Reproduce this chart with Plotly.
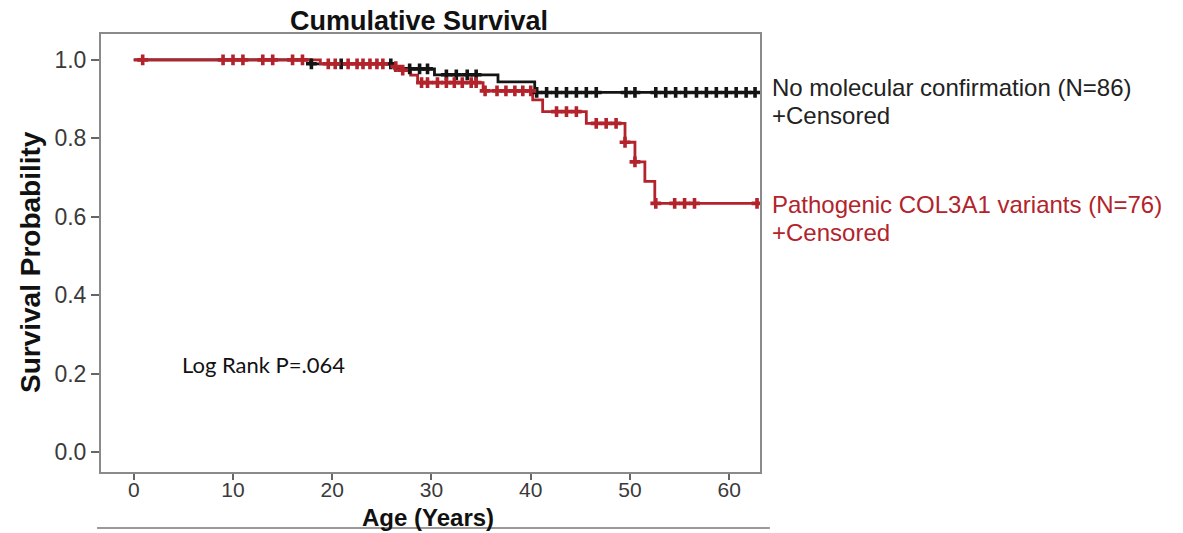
import plotly.graph_objects as go

# ---- data ----
# No molecular confirmation (N=86): step curve (time, survival)
black_t = [0, 17.8, 26.3, 30.3, 36.7, 40.4, 63.0]
black_s = [1.0, 0.990, 0.977, 0.962, 0.944, 0.917, 0.917]
black_cens_t = [17.9, 20.9, 25.9, 27.8, 28.8, 29.6, 31.5, 32.5, 33.6, 34.5,
                40.6, 41.6, 42.6, 43.6, 44.6, 45.6, 46.6, 49.6, 50.5, 52.6,
                53.6, 54.6, 55.6, 56.7, 57.7, 58.7, 59.7, 60.7, 61.7, 62.6]
black_cens_s = [0.990, 0.990, 0.990, 0.977, 0.977, 0.977, 0.962, 0.962, 0.962, 0.962,
                0.917, 0.917, 0.917, 0.917, 0.917, 0.917, 0.917, 0.917, 0.917, 0.917,
                0.917, 0.917, 0.917, 0.917, 0.917, 0.917, 0.917, 0.917, 0.917, 0.917]

# Pathogenic COL3A1 variants (N=76)
red_t = [0, 18.8, 26.1, 27.0, 27.9, 28.6, 35.2, 40.2, 41.2, 45.6, 49.5, 50.5, 51.5, 52.5, 62.8]
red_s = [1.0, 0.990, 0.983, 0.974, 0.961, 0.942, 0.921, 0.898, 0.868, 0.838, 0.790, 0.740, 0.690, 0.634, 0.634]
red_cens_t = [0.9, 9.0, 10.0, 11.0, 13.0, 14.0, 16.0, 17.0,
              19.6, 20.3, 21.6, 22.5, 23.1, 23.8, 24.5, 25.1,
              26.4, 27.1,
              29.0, 29.6, 30.6, 31.5, 32.3, 33.1, 34.0, 34.5,
              35.4, 36.6, 37.5, 38.4, 39.2, 40.0,
              42.6, 43.6, 44.6,
              46.6, 47.6, 48.6,
              49.5, 50.5,
              52.6, 54.5, 55.5, 56.5, 62.8]
red_cens_s = [1.0] * 8 + [0.990] * 8 + [0.983, 0.974] + [0.942] * 8 + [0.921] * 6 + \
             [0.868] * 3 + [0.838] * 3 + [0.790, 0.740] + [0.634] * 5

x_ticks = [0, 10, 20, 30, 40, 50, 60]
y_ticks = [0.0, 0.2, 0.4, 0.6, 0.8, 1.0]

BLACK = "#141414"
RED = "#b3232b"
FONT = "Liberation Sans, Arial"

fig = go.Figure()
fig.add_trace(go.Scatter(x=black_t, y=black_s, mode="lines", line_shape="hv",
                         line=dict(color=BLACK, width=2.8), showlegend=False, hoverinfo="skip"))
fig.add_trace(go.Scatter(x=red_t, y=red_s, mode="lines", line_shape="hv",
                         line=dict(color=RED, width=2.8), showlegend=False, hoverinfo="skip"))
fig.add_trace(go.Scatter(x=black_cens_t, y=black_cens_s, mode="markers",
                         marker=dict(symbol="cross", size=9, color=BLACK, line=dict(width=0)),
                         showlegend=False))
fig.add_trace(go.Scatter(x=red_cens_t, y=red_cens_s, mode="markers",
                         marker=dict(symbol="cross", size=9, color=RED, line=dict(width=0)),
                         showlegend=False))

axis_common = dict(showgrid=False, zeroline=False, showline=True, linecolor="#8a8a8a",
                   linewidth=2, mirror=True, ticks="outside", tickwidth=1.5, automargin=False,
                   tickcolor="#666")

fig.update_xaxes(range=[-3.3, 63.1], tickvals=x_ticks, ticktext=[str(v) for v in x_ticks], ticklen=6,
                 ticklabelstandoff=-8, tickfont=dict(family=FONT, size=21, color="#3a3a3a"), **axis_common)
fig.update_yaxes(range=[-0.051, 1.066], tickvals=y_ticks, ticktext=[f"{v:.1f}" for v in y_ticks], ticklen=8,
                 tickfont=dict(family=FONT, size=23, color="#3a3a3a"), **axis_common)

label_font = dict(family=FONT, size=24)
annotations = [
    dict(text="No molecular confirmation (N=86)", x=1.015, y=0.877, font=dict(color="#222", **label_font)),
    dict(text="+Censored", x=1.015, y=0.815, font=dict(color="#222", **label_font)),
    dict(text="Pathogenic COL3A1 variants (N=76)", x=1.015, y=0.610, font=dict(color=RED, **label_font)),
    dict(text="+Censored", x=1.015, y=0.546, font=dict(color=RED, **label_font)),
]
for a in annotations:
    fig.add_annotation(xref="paper", yref="paper", xanchor="left", yanchor="middle",
                       showarrow=False, **a)
# axis titles
fig.add_annotation(xref="paper", yref="paper", x=0.496, y=-0.105, xanchor="center", yanchor="middle",
                   text="<b>Age (Years)</b>", showarrow=False, font=dict(family=FONT, size=24, color="#111"))
fig.add_annotation(xref="paper", yref="paper", x=-0.108, y=0.479, xanchor="center", yanchor="middle",
                   text="<b>Survival Probability</b>", textangle=-90, showarrow=False,
                   font=dict(family=FONT, size=28, color="#111"))

fig.add_annotation(x=4.7, y=0.222, xref="x", yref="y", xanchor="left", yanchor="middle",
                   text="Log Rank P=.064", showarrow=False,
                   font=dict(family="Lato, Open Sans", size=22, color="#111"))

fig.add_shape(type="line", xref="paper", yref="paper", x0=-0.006, x1=1.015, y0=-0.128, y1=-0.128,
              line=dict(color="#777", width=1.5))

fig.update_layout(
    width=1183, height=533,
    margin=dict(l=101, r=423, t=34, b=61),
    paper_bgcolor="white", plot_bgcolor="white",
    title=dict(text="<b>Cumulative Survival</b>", x=(419 / 1183), xanchor="center", y=1 - 21 / 533,
               yanchor="middle", font=dict(family=FONT, size=27, color="#111")),
)

fig.write_html("out.html", config={"displayModeBar": False},
               post_script="document.body.style.margin='0';")
